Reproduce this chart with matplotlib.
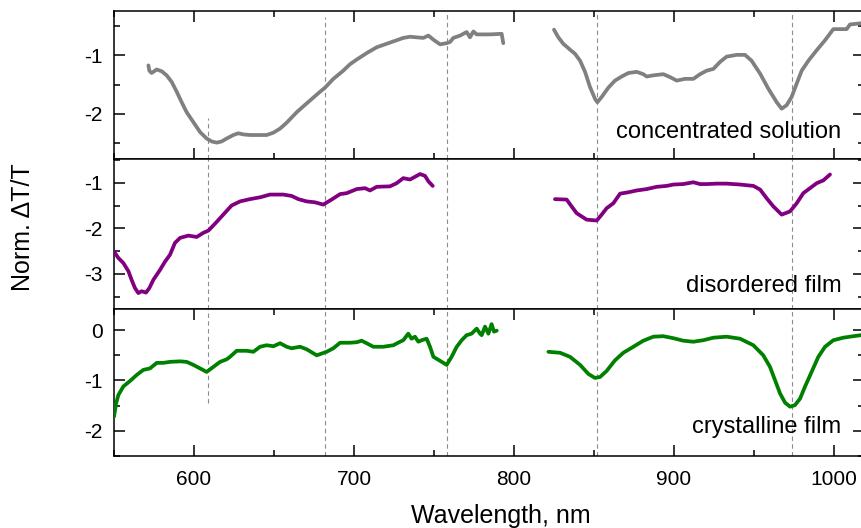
import numpy as np
import matplotlib.pyplot as plt
from matplotlib.ticker import MultipleLocator

plt.rcParams['font.family'] = ['Liberation Sans', 'DejaVu Sans']
plt.rcParams['axes.unicode_minus'] = False

# concentrated solution (grey), nan splits the two measured ranges
wl_sol = [571.5, 572.1, 573.5, 576.7, 579.8, 582.9, 586.0, 589.2, 592.3, 595.4, 599.6,
          603.8, 607.9, 611.0, 614.2, 617.3, 620.4, 624.6, 627.7, 630.8, 635.0, 640.2,
          645.4, 649.6, 653.8, 657.9, 664.2, 670.4, 674.6, 678.8, 681.9, 687.1, 693.3,
          697.5, 701.7, 707.9, 714.2, 720.4, 726.7, 730.8, 735.0, 739.2, 743.3, 746.5,
          749.6, 753.8, 757.9, 760.0, 762.1, 766.3, 770.4, 772.5, 774.6, 776.7, 785.0,
          792.3, 793.3, np.nan,
          825.0, 827.7, 830.8, 835.0, 838.1, 841.3, 844.4, 847.5, 850.6, 852.1, 854.8,
          859.0, 863.1, 867.3, 871.5, 876.7, 880.8, 882.9, 887.1, 893.3, 897.5, 901.7,
          906.9, 912.1, 916.3, 920.4, 924.6, 928.8, 932.9, 939.2, 944.4, 948.5, 953.8,
          959.0, 964.2, 967.3, 970.4, 973.5, 976.7, 979.8, 984.0, 989.2, 994.4, 998.5,
          999.6, 1007.9, 1010.0, 1016.9, 1020.0]
dt_sol = [-1.17, -1.26, -1.30, -1.24, -1.27, -1.34, -1.45, -1.62, -1.80, -1.97, -2.14,
          -2.31, -2.42, -2.47, -2.49, -2.47, -2.42, -2.36, -2.33, -2.35, -2.36, -2.36,
          -2.36, -2.32, -2.25, -2.15, -1.97, -1.82, -1.72, -1.62, -1.55, -1.40, -1.26,
          -1.15, -1.07, -0.96, -0.86, -0.80, -0.74, -0.70, -0.68, -0.69, -0.70, -0.66,
          -0.73, -0.81, -0.79, -0.77, -0.70, -0.66, -0.60, -0.69, -0.59, -0.64, -0.64,
          -0.63, -0.79, np.nan,
          -0.56, -0.69, -0.80, -0.90, -0.97, -1.09, -1.28, -1.54, -1.74, -1.80, -1.71,
          -1.55, -1.43, -1.36, -1.30, -1.28, -1.32, -1.36, -1.34, -1.32, -1.37, -1.43,
          -1.40, -1.40, -1.32, -1.26, -1.23, -1.11, -1.02, -0.99, -0.99, -1.09, -1.31,
          -1.57, -1.80, -1.91, -1.85, -1.71, -1.48, -1.26, -1.09, -0.91, -0.74, -0.59,
          -0.55, -0.55, -0.47, -0.45, -0.45]

# disordered film (purple)
wl_dis = [550.0, 552.7, 555.8, 559.0, 561.0, 563.1, 565.2, 567.3, 570.0, 572.1, 574.6,
          578.8, 581.9, 585.0, 588.1, 591.3, 596.5, 601.7, 605.8, 609.0, 613.1, 618.3,
          623.5, 628.8, 635.0, 641.3, 647.5, 655.8, 661.0, 665.2, 670.4, 675.6, 680.8,
          686.0, 691.3, 695.4, 701.7, 706.9, 710.0, 714.2, 722.5, 726.7, 730.8, 735.0,
          741.3, 744.4, 746.5, 749.2, np.nan,
          825.6, 832.9, 836.0, 839.2, 845.4, 851.7, 854.8, 857.9, 862.1, 866.3, 871.5,
          876.7, 882.9, 889.2, 895.4, 899.6, 905.8, 912.1, 916.3, 920.4, 926.7, 932.9,
          941.3, 949.6, 953.8, 957.9, 962.1, 967.3, 972.5, 976.7, 980.8, 985.0, 989.2,
          993.3, 997.5]
dt_dis = [-2.51, -2.65, -2.76, -2.94, -3.13, -3.31, -3.42, -3.38, -3.41, -3.31, -3.13,
          -2.91, -2.73, -2.58, -2.32, -2.21, -2.16, -2.19, -2.10, -2.05, -1.90, -1.70,
          -1.50, -1.41, -1.36, -1.32, -1.26, -1.26, -1.29, -1.36, -1.41, -1.43, -1.48,
          -1.37, -1.25, -1.23, -1.14, -1.12, -1.17, -1.09, -1.08, -1.01, -0.90, -0.93,
          -0.81, -0.85, -0.97, -1.07, np.nan,
          -1.36, -1.37, -1.52, -1.67, -1.81, -1.83, -1.70, -1.56, -1.45, -1.24, -1.21,
          -1.17, -1.14, -1.09, -1.07, -1.04, -1.03, -0.99, -1.03, -1.03, -1.02, -1.02,
          -1.04, -1.07, -1.15, -1.34, -1.52, -1.70, -1.63, -1.45, -1.23, -1.12, -1.01,
          -0.95, -0.82]

# crystalline film (green)
wl_cry = [550.0, 551.3, 552.7, 555.8, 560.0, 564.2, 568.3, 572.5, 576.7, 580.8, 585.0,
          591.3, 595.4, 599.6, 603.8, 607.9, 612.1, 616.3, 620.4, 622.5, 626.7, 632.9,
          637.1, 641.3, 645.4, 649.6, 653.8, 657.9, 661.0, 666.3, 670.4, 676.7, 682.9,
          687.1, 691.3, 697.5, 701.7, 704.8, 707.9, 712.1, 718.3, 724.6, 728.8, 730.8,
          733.9, 736.0, 738.1, 740.2, 742.3, 745.4, 747.5, 749.6, 753.8, 757.9, 761.0,
          764.2, 767.3, 770.4, 773.5, 776.7, 778.8, 779.8, 781.9, 784.0, 786.0, 787.5,
          789.2, np.nan,
          821.5, 828.8, 835.0, 841.3, 846.5, 850.6, 853.8, 857.9, 863.1, 868.3, 874.6,
          880.8, 887.1, 893.3, 899.6, 905.8, 912.1, 918.3, 924.6, 932.9, 941.3, 949.6,
          955.8, 960.0, 963.1, 966.3, 969.4, 972.5, 975.6, 978.8, 981.9, 986.0, 990.2,
          994.4, 999.6, 1005.8, 1012.1, 1016.9, 1020.0]
dt_cry = [-1.72, -1.46, -1.29, -1.12, -1.01, -0.89, -0.79, -0.76, -0.65, -0.65, -0.63,
          -0.62, -0.63, -0.69, -0.76, -0.83, -0.73, -0.63, -0.58, -0.53, -0.41, -0.41,
          -0.43, -0.33, -0.30, -0.32, -0.26, -0.33, -0.36, -0.33, -0.38, -0.50, -0.43,
          -0.36, -0.25, -0.25, -0.24, -0.21, -0.26, -0.33, -0.33, -0.30, -0.23, -0.20,
          -0.07, -0.17, -0.13, -0.23, -0.20, -0.17, -0.33, -0.53, -0.61, -0.69, -0.53,
          -0.33, -0.20, -0.10, -0.07, 0.03, -0.07, -0.10, 0.07, -0.07, 0.12, -0.03,
          -0.01, np.nan,
          -0.43, -0.45, -0.53, -0.69, -0.87, -0.95, -0.93, -0.81, -0.60, -0.45, -0.33,
          -0.21, -0.13, -0.12, -0.16, -0.21, -0.23, -0.20, -0.15, -0.13, -0.17, -0.30,
          -0.50, -0.73, -0.99, -1.26, -1.44, -1.52, -1.49, -1.36, -1.12, -0.83, -0.53,
          -0.33, -0.20, -0.15, -0.12, -0.10, -0.09]

labels = ['concentrated solution', 'disordered film', 'crystalline film']
colors = ['#808080', '#800080', '#008000']
marks = [609, 682, 758, 852, 974]

W, H = 861, 528
fig = plt.figure(figsize=(W / 100, H / 100), dpi=100)

left, right = 114 / W, 864 / W
boxes = [(11, 159), (159, 309), (309, 456)]
ylims = [(-2.77, -0.24), (-3.77, -0.48), (-2.5, 0.42)]
series = [(wl_sol, dt_sol), (wl_dis, dt_dis), (wl_cry, dt_cry)]
label_y = [0.142, 0.115, 0.154]

# vertical extent of each marker line, per panel (ymin, ymax in axes fraction)
spans = {
    609: [(0, 0.28), (0, 1), (0.36, 1)],
    682: [(0, 0.96), (0, 1), (0, 1)],
    758: [(0, 0.98), (0, 1), (0, 1)],
    852: [(0, 0.98), (0, 1), (0, 1)],
    974: [(0, 0.98), (0, 1), (0, 1)],
}

for i in range(3):
    top, bot = boxes[i]
    ax = fig.add_axes([left, 1 - bot / H, right - left, (bot - top) / H])
    x, y = series[i]
    ax.plot(x, y, color=colors[i], lw=2.7, solid_capstyle='round',
            solid_joinstyle='round', zorder=3)
    for m in marks:
        lo, hi = spans[m][i]
        ax.axvline(m, ymin=lo, ymax=hi, color='#8c8c8c', lw=0.8,
                   dashes=(4, 3), zorder=1)
    ax.set_xlim(550, 1018.75)
    ax.set_ylim(*ylims[i])
    ax.yaxis.set_major_locator(MultipleLocator(1))
    ax.yaxis.set_minor_locator(MultipleLocator(0.5))
    ax.xaxis.set_major_locator(MultipleLocator(100))
    ax.xaxis.set_minor_locator(MultipleLocator(50))
    for s in ax.spines.values():
        s.set_linewidth(1.1)
    ax.tick_params(which='both', direction='in', width=1.1, labelsize=15,
                   left=True, right=True, top=(i != 1), bottom=(i != 1),
                   labelbottom=(i == 2))
    ax.tick_params(which='major', length=8)
    ax.tick_params(which='minor', length=4.5)
    ax.tick_params(axis='y', pad=8)
    ax.tick_params(axis='x', pad=10)
    ax.text(0.970, label_y[i], labels[i], transform=ax.transAxes,
            ha='right', va='baseline', fontsize=17)

fig.text(23 / W, 1 - 227 / H, 'Norm. ΔT/T', rotation=90, ha='center',
         va='center', fontsize=18)
fig.text(501 / W, 1 - 516 / H, 'Wavelength, nm', ha='center', va='center',
         fontsize=18)

fig.savefig('out.png', dpi=100)
